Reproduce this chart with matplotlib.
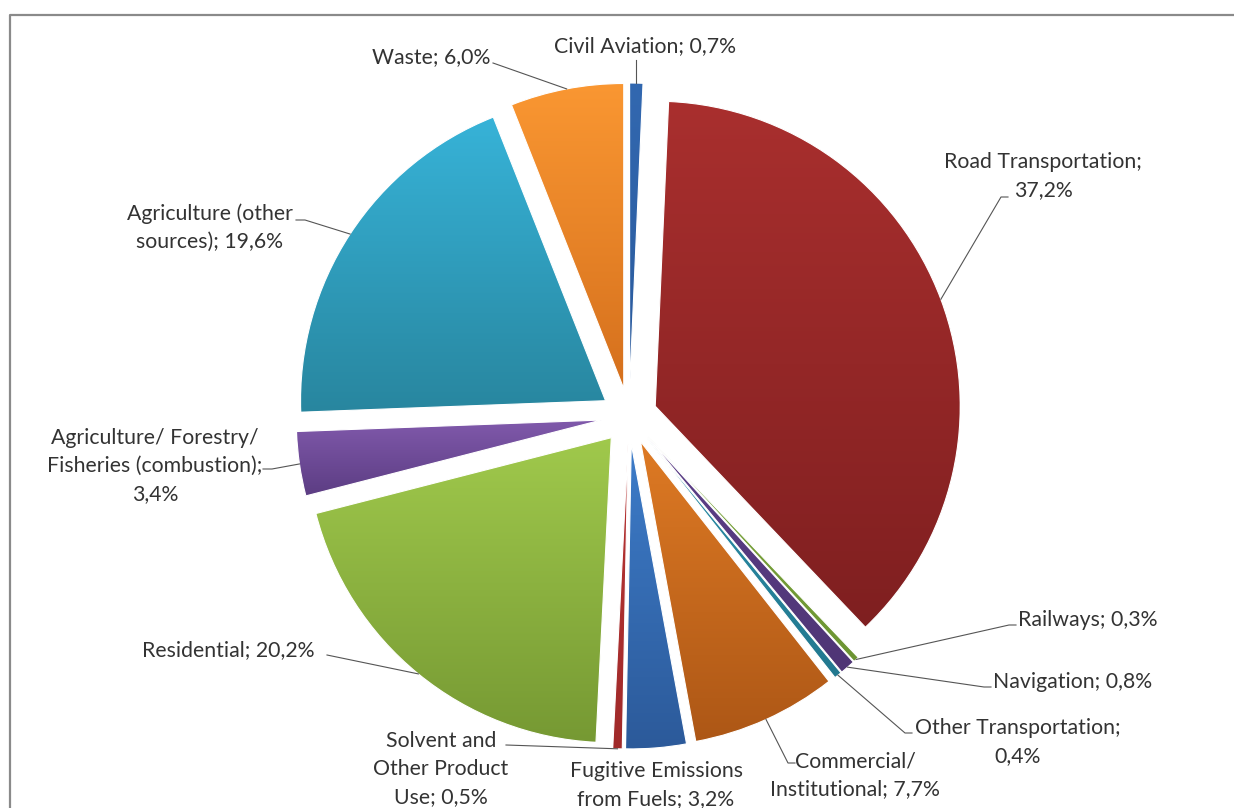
import numpy as np
import matplotlib
matplotlib.use("Agg")
import matplotlib.pyplot as plt
from matplotlib.colors import LinearSegmentedColormap
from matplotlib.lines import Line2D

# emission shares by source sector, clockwise from 12 o'clock
sectors = ["Civil Aviation", "Road Transportation", "Railways", "Navigation",
           "Other Transportation", "Commercial/ Institutional",
           "Fugitive Emissions from Fuels", "Solvent and Other Product Use",
           "Residential", "Agriculture/ Forestry/ Fisheries (combustion)",
           "Agriculture (other sources)", "Waste"]
shares = [0.7, 37.2, 0.3, 0.8, 0.4, 7.7, 3.2, 0.5, 20.2, 3.4, 19.6, 6.0]

# label text as printed next to each slice
label_text = ["Civil Aviation; 0,7%",
              "Road Transportation;\n37,2%",
              "Railways; 0,3%",
              "Navigation; 0,8%",
              "Other Transportation;\n0,4%",
              "Commercial/\nInstitutional; 7,7%",
              "Fugitive Emissions\nfrom Fuels; 3,2%",
              "Solvent and\nOther Product\nUse; 0,5%",
              "Residential; 20,2%",
              "Agriculture/ Forestry/\nFisheries (combustion);\n3,4%",
              "Agriculture (other\nsources); 19,6%",
              "Waste; 6,0%"]

# (top colour, bottom colour) of the vertical gradient on each slice
fills = [("#3268b0", "#2a5a9c"), ("#a92f2e", "#7f1f20"), ("#7ea83e", "#6c9432"),
         ("#5c3f88", "#4f3575"), ("#2a8ea8", "#22788f"), ("#de7a24", "#ad5716"),
         ("#3d7cc9", "#2c5a9a"), ("#b83434", "#a02a2a"), ("#a0c94c", "#769933"),
         ("#8059ab", "#5c3d83"), ("#37b3d8", "#28869f"), ("#fa9732", "#d5701d")]

W, H = 1234, 808
CX, CY, R, EXPL = 629, 416, 305, 28
TXT = "#333333"
LEAD = "#555555"

plt.rcParams['font.family'] = ['Lato', 'DejaVu Sans']

fig = plt.figure(figsize=(W / 100, H / 100), dpi=100)
ax = fig.add_axes([0, 0, 1, 1])

def Y(y):
    # pixel row (from top) -> data y
    return H - y

wedges, _ = ax.pie(shares, startangle=90, counterclock=False,
                   explode=[EXPL] * len(shares), radius=R, center=(CX, Y(CY)),
                   wedgeprops=dict(edgecolor="white", linewidth=0.8))

grad = np.linspace(0, 1, 256).reshape(-1, 1)
for w, (top, bot) in zip(wedges, fills):
    w.set_facecolor("none")
    w.set_zorder(3)
    bb = w.get_path().get_extents()
    cmap = LinearSegmentedColormap.from_list("g", [bot, top])
    ax.imshow(grad, cmap=cmap, origin="lower", aspect="auto",
              extent=[bb.x0, bb.x1, bb.y0, bb.y1], clip_path=w,
              interpolation="bilinear", zorder=2)

# point on the outer arc at the middle of each exploded slice
anchors = []
for w in wedges:
    mid = np.deg2rad((w.theta1 + w.theta2) / 2)
    cx, cy = w.center
    anchors.append((cx + w.r * np.cos(mid), cy + w.r * np.sin(mid)))

# text placement: x, y (pixels from top-left), alignment, leader start points
layout = [
    (645, 46, "center", [(None, 60)]),
    (1043, 176, "center", [(1008, 197), (1001, 197)]),
    (1018, 620, "left", [(1016, 625), (1009, 625)]),
    (993, 682, "left", [(991, 687), (984, 687)]),
    (1018, 742, "center", [(912, 733), (905, 733)]),
    (855, 775, "center", [(795, 763), (788, 763)]),
    (656, 785, "center", None),
    (441, 769, "center", [(506, 745)]),
    (315, 650, "right", [(327, 655)]),
    (155, 466, "center", [(263, 469), (272, 469)]),
    (210, 228, "center", [(296, 220), (305, 220)]),
    (490, 57, "right", [(493, 63)]),
]

for txt, (x, y, ha, pts), (axx, ayy) in zip(label_text, layout, anchors):
    ax.text(x, Y(y), txt, ha=ha, va="center", fontsize=15.3, color=TXT,
            linespacing=1.5, zorder=5)
    if pts is None:
        continue
    xs = [axx if px is None else px for px, py in pts] + [axx]
    ys = [Y(py) for px, py in pts] + [ayy]
    ax.plot(xs, ys, color=LEAD, linewidth=0.8, zorder=4)

ax.set_xlim(0, W)
ax.set_ylim(0, H)
ax.axis("off")

# chart area border (runs past the right and bottom edges)
fig.add_artist(Line2D([10.5 / W, 10.5 / W, 1.01], [-0.01, Y(15) / H, Y(15) / H],
                      color="#8a8a8a", linewidth=1.6))

fig.savefig("out.png", dpi=100)
